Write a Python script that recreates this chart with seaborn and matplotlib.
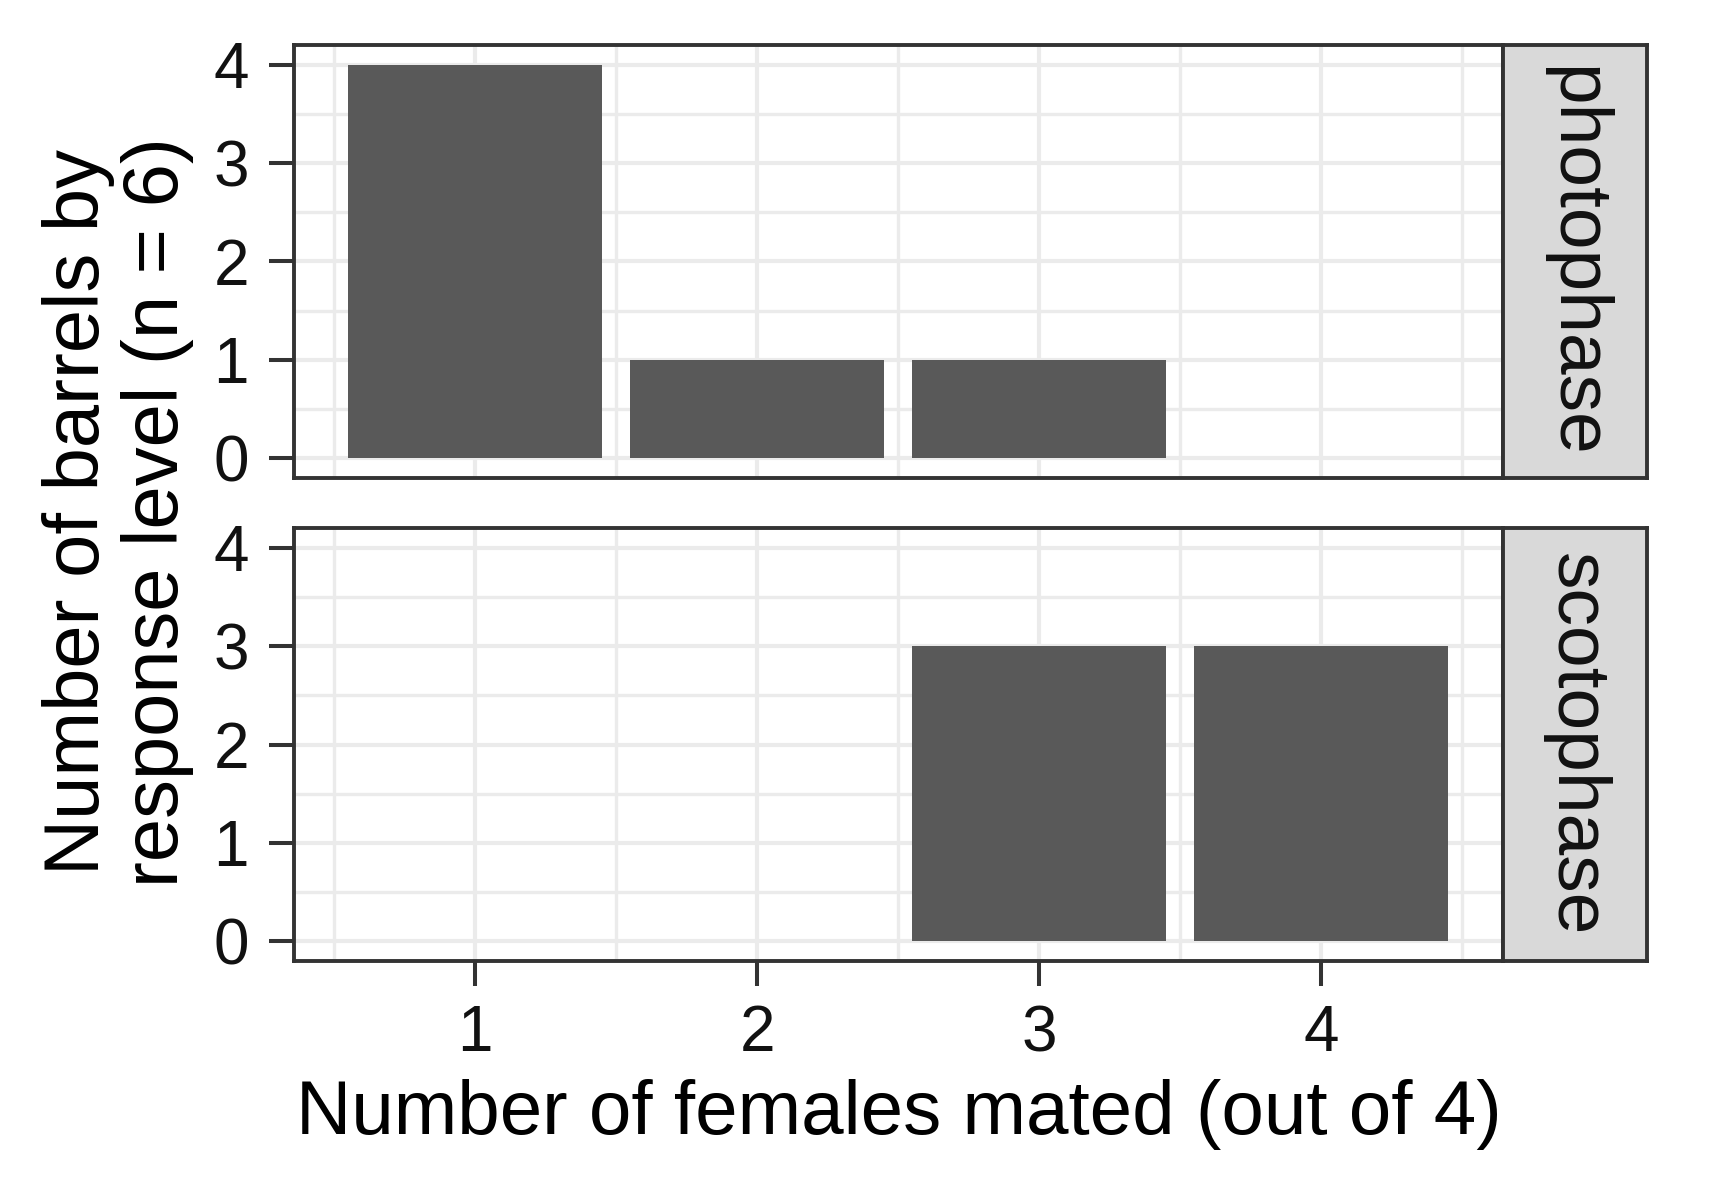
import matplotlib
matplotlib.use("Agg")
import matplotlib.pyplot as plt
import seaborn as sns
import pandas as pd
import numpy as np

# ---- data ----
females_mated = [1, 2, 3, 4]
photophase_counts = [4, 1, 1, 0]
scotophase_counts = [0, 0, 3, 3]
phases = ["photophase", "scotophase"]
x_ticks = [1, 2, 3, 4]
y_ticks = [0, 1, 2, 3, 4]
x_title = "Number of females mated (out of 4)"
y_title = "Number of barrels by\nresponse level (n = 6)"

sns.set_theme(style="white")
plt.rcParams['font.family'] = ['Liberation Sans', 'DejaVu Sans']

df = pd.DataFrame({
    "mated": females_mated * 2,
    "count": photophase_counts + scotophase_counts,
    "phase": [phases[0]] * len(females_mated) + [phases[1]] * len(females_mated),
})

W, H = 1709, 1178
fig = plt.figure(figsize=(W / 100, H / 100), dpi=100)
fig.patch.set_facecolor("white")


def rect(l, t, r, b):
    return [l / W, 1 - b / H, (r - l) / W, (b - t) / H]


panels = [(45, 478), (528, 961)]
PL, PR, SR = 293.5, 1503, 1647
grid_c = "#EBEBEB"
dark = "#333333"
txt = "#111111"

for i, (phase, (t, b)) in enumerate(zip(phases, panels)):
    ax = fig.add_axes(rect(PL, t, PR, b))
    sub = df[df.phase == phase]
    sns.barplot(data=sub, x="mated", y="count", native_scale=True, width=0.9,
                color="#595959", saturation=1, errorbar=None,
                edgecolor="none", linewidth=0, ax=ax)
    ax.set_xlim(0.355, 4.645)
    ax.set_ylim(-0.2, 4.2)
    ax.set_xticks(x_ticks)
    ax.set_xticks(np.arange(0.5, 4.6, 1.0), minor=True)
    ax.set_yticks(y_ticks)
    ax.set_yticks(np.arange(0.5, 4.0, 1.0), minor=True)
    ax.set_axisbelow(True)
    ax.grid(which="major", color=grid_c, lw=3.0)
    ax.grid(which="minor", color=grid_c, lw=2.4)
    ax.set_facecolor("white")
    for s in ax.spines.values():
        s.set_visible(True)
        s.set_color(dark)
        s.set_linewidth(2.8)
    ax.set_xlabel("")
    ax.set_ylabel("")
    ax.tick_params(which="minor", length=0)
    ax.tick_params(axis="y", which="major", direction="out", length=18, width=2.9,
                   color=dark, labelsize=46, labelcolor=txt, pad=14, left=True)
    ax.set_yticklabels([str(v) for v in y_ticks])
    if i == 0:
        ax.tick_params(axis="x", which="major", length=0, labelbottom=False, bottom=False)
    else:
        ax.tick_params(axis="x", which="major", direction="out", length=18, width=2.9,
                       color=dark, labelsize=46, labelcolor=txt, pad=13, bottom=True)
        ax.set_xticklabels([str(v) for v in x_ticks])

    sax = fig.add_axes(rect(PR, t, SR, b))
    sax.set_facecolor("#D9D9D9")
    sax.set_xticks([])
    sax.set_yticks([])
    for s in sax.spines.values():
        s.set_visible(True)
        s.set_color(dark)
        s.set_linewidth(2.8)
    sax.text(0.5, 0.5, phase, rotation=-90, ha="center", va="center",
             fontsize=54, color=txt, transform=sax.transAxes)

fig.text(899 / W, 1 - 1114 / H, x_title, ha="center", va="center",
         fontsize=55, color="black")
fig.text(118 / W, 1 - 512 / H, y_title, ha="center", va="center",
         rotation=90, fontsize=56, color="black", linespacing=1.1,
         multialignment="center")

fig.savefig("out.png", dpi=100, facecolor="white")
